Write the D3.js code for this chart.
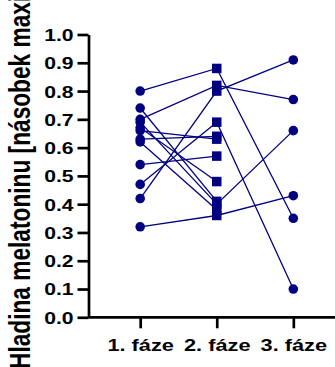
<!DOCTYPE html>
<html>
<head>
<meta charset="utf-8">
<script src="https://cdn.jsdelivr.net/npm/d3@7"></script>
<style>
  body { margin: 0; background: #fff; }
  svg { display: block; }
  .axis path, .axis line { stroke: #000; stroke-width: 2.7; }
  .axis text { font-family: "Liberation Sans", Arial, sans-serif; font-weight: bold; fill: #000; }
</style>
</head>
<body>
<div id="chart"></div>
<script>
// data, one entry per subject
var phases = ["1. fáze", "2. fáze", "3. fáze"];
var phase1 = [0.80, 0.74, 0.70, 0.69, 0.66, 0.67, 0.63, 0.62, 0.54, 0.47, 0.42, 0.32];
var phase2 = [0.88, 0.41, 0.82, 0.40, 0.63, 0.48, 0.64, 0.38, 0.57, 0.69, 0.80, 0.36];
var phase3 = [0.35, null, 0.77, 0.66, null, null, null, null, null, 0.10, 0.91, 0.43];
var yTicks = [0, 0.1, 0.2, 0.3, 0.4, 0.5, 0.6, 0.7, 0.8, 0.9, 1.0];
var yTitle = "Hladina melatoninu [násobek maxima]";

var width = 335;
var height = 367;
var color = "#000080";
var stretch = 1.28; // glyphs in the picture are a bit wider than normal

var svg = d3.select("#chart").append("svg")
    .attr("width", width)
    .attr("height", height);

var x = d3.scalePoint()
    .domain(phases)
    .range([88.5, 345])
    .padding(0.675);

var y = d3.scaleLinear()
    .domain([0, 1])
    .range([317.3, 34.5]);

// Y axis
var gy = svg.append("g")
    .attr("class", "axis")
    .attr("transform", "translate(" + x.range()[0] + ",0)")
    .call(d3.axisLeft(y).tickValues(yTicks).tickFormat(d3.format(".1f")).tickSize(11).tickSizeOuter(0));
gy.selectAll("text")
    .attr("x", 0)
    .attr("dy", "0.36em")
    .style("font-size", "16.5px")
    .attr("transform", "translate(-15,0) scale(" + stretch + ",1)");

// X axis
var gx = svg.append("g")
    .attr("class", "axis")
    .attr("transform", "translate(0," + y(0) + ")")
    .call(d3.axisBottom(x).tickSize(11).tickSizeOuter(0));
gx.select(".domain").attr("d", "M" + x.range()[0] + ",0H" + x.range()[1]);
gx.selectAll("text")
    .attr("y", 0)
    .attr("dy", 0)
    .style("font-size", "17px")
    .attr("transform", "translate(0,33.5) scale(" + stretch + ",1)");

// Y title (cut off at the top, as in the original export)
svg.append("text")
    .attr("transform", "translate(29.5,369) rotate(-90) scale(1," + stretch + ")")
    .attr("text-anchor", "start")
    .style("font-family", "'Liberation Sans', Arial, sans-serif")
    .style("font-weight", "bold")
    .style("font-size", "22.7px")
    .text(yTitle);

var subjects = d3.range(phase1.length).map(function(i) {
  return [phase1[i], phase2[i], phase3[i]];
});

// connecting lines
var line = d3.line()
    .defined(function(d) { return d != null; })
    .x(function(d, i) { return x(phases[i]); })
    .y(function(d) { return y(d); });

svg.append("g").selectAll("path")
    .data(subjects)
    .enter()
    .append("path")
      .attr("d", line)
      .attr("fill", "none")
      .attr("stroke", color)
      .attr("stroke-width", 1.3);

// circles for phase 1 and 3
var dots = [];
subjects.forEach(function(s) {
  if (s[0] != null) dots.push({p: phases[0], v: s[0]});
  if (s[2] != null) dots.push({p: phases[2], v: s[2]});
});
svg.append("g").selectAll("circle")
    .data(dots)
    .enter()
    .append("circle")
      .attr("cx", function(d) { return x(d.p); })
      .attr("cy", function(d) { return y(d.v); })
      .attr("r", 4.8)
      .attr("fill", color);

// squares for phase 2
var sq = 9.5;
svg.append("g").selectAll("rect")
    .data(phase2)
    .enter()
    .append("rect")
      .attr("x", x(phases[1]) - sq / 2)
      .attr("y", function(d) { return y(d) - sq / 2; })
      .attr("width", sq)
      .attr("height", sq)
      .attr("fill", color);
</script>
</body>
</html>
